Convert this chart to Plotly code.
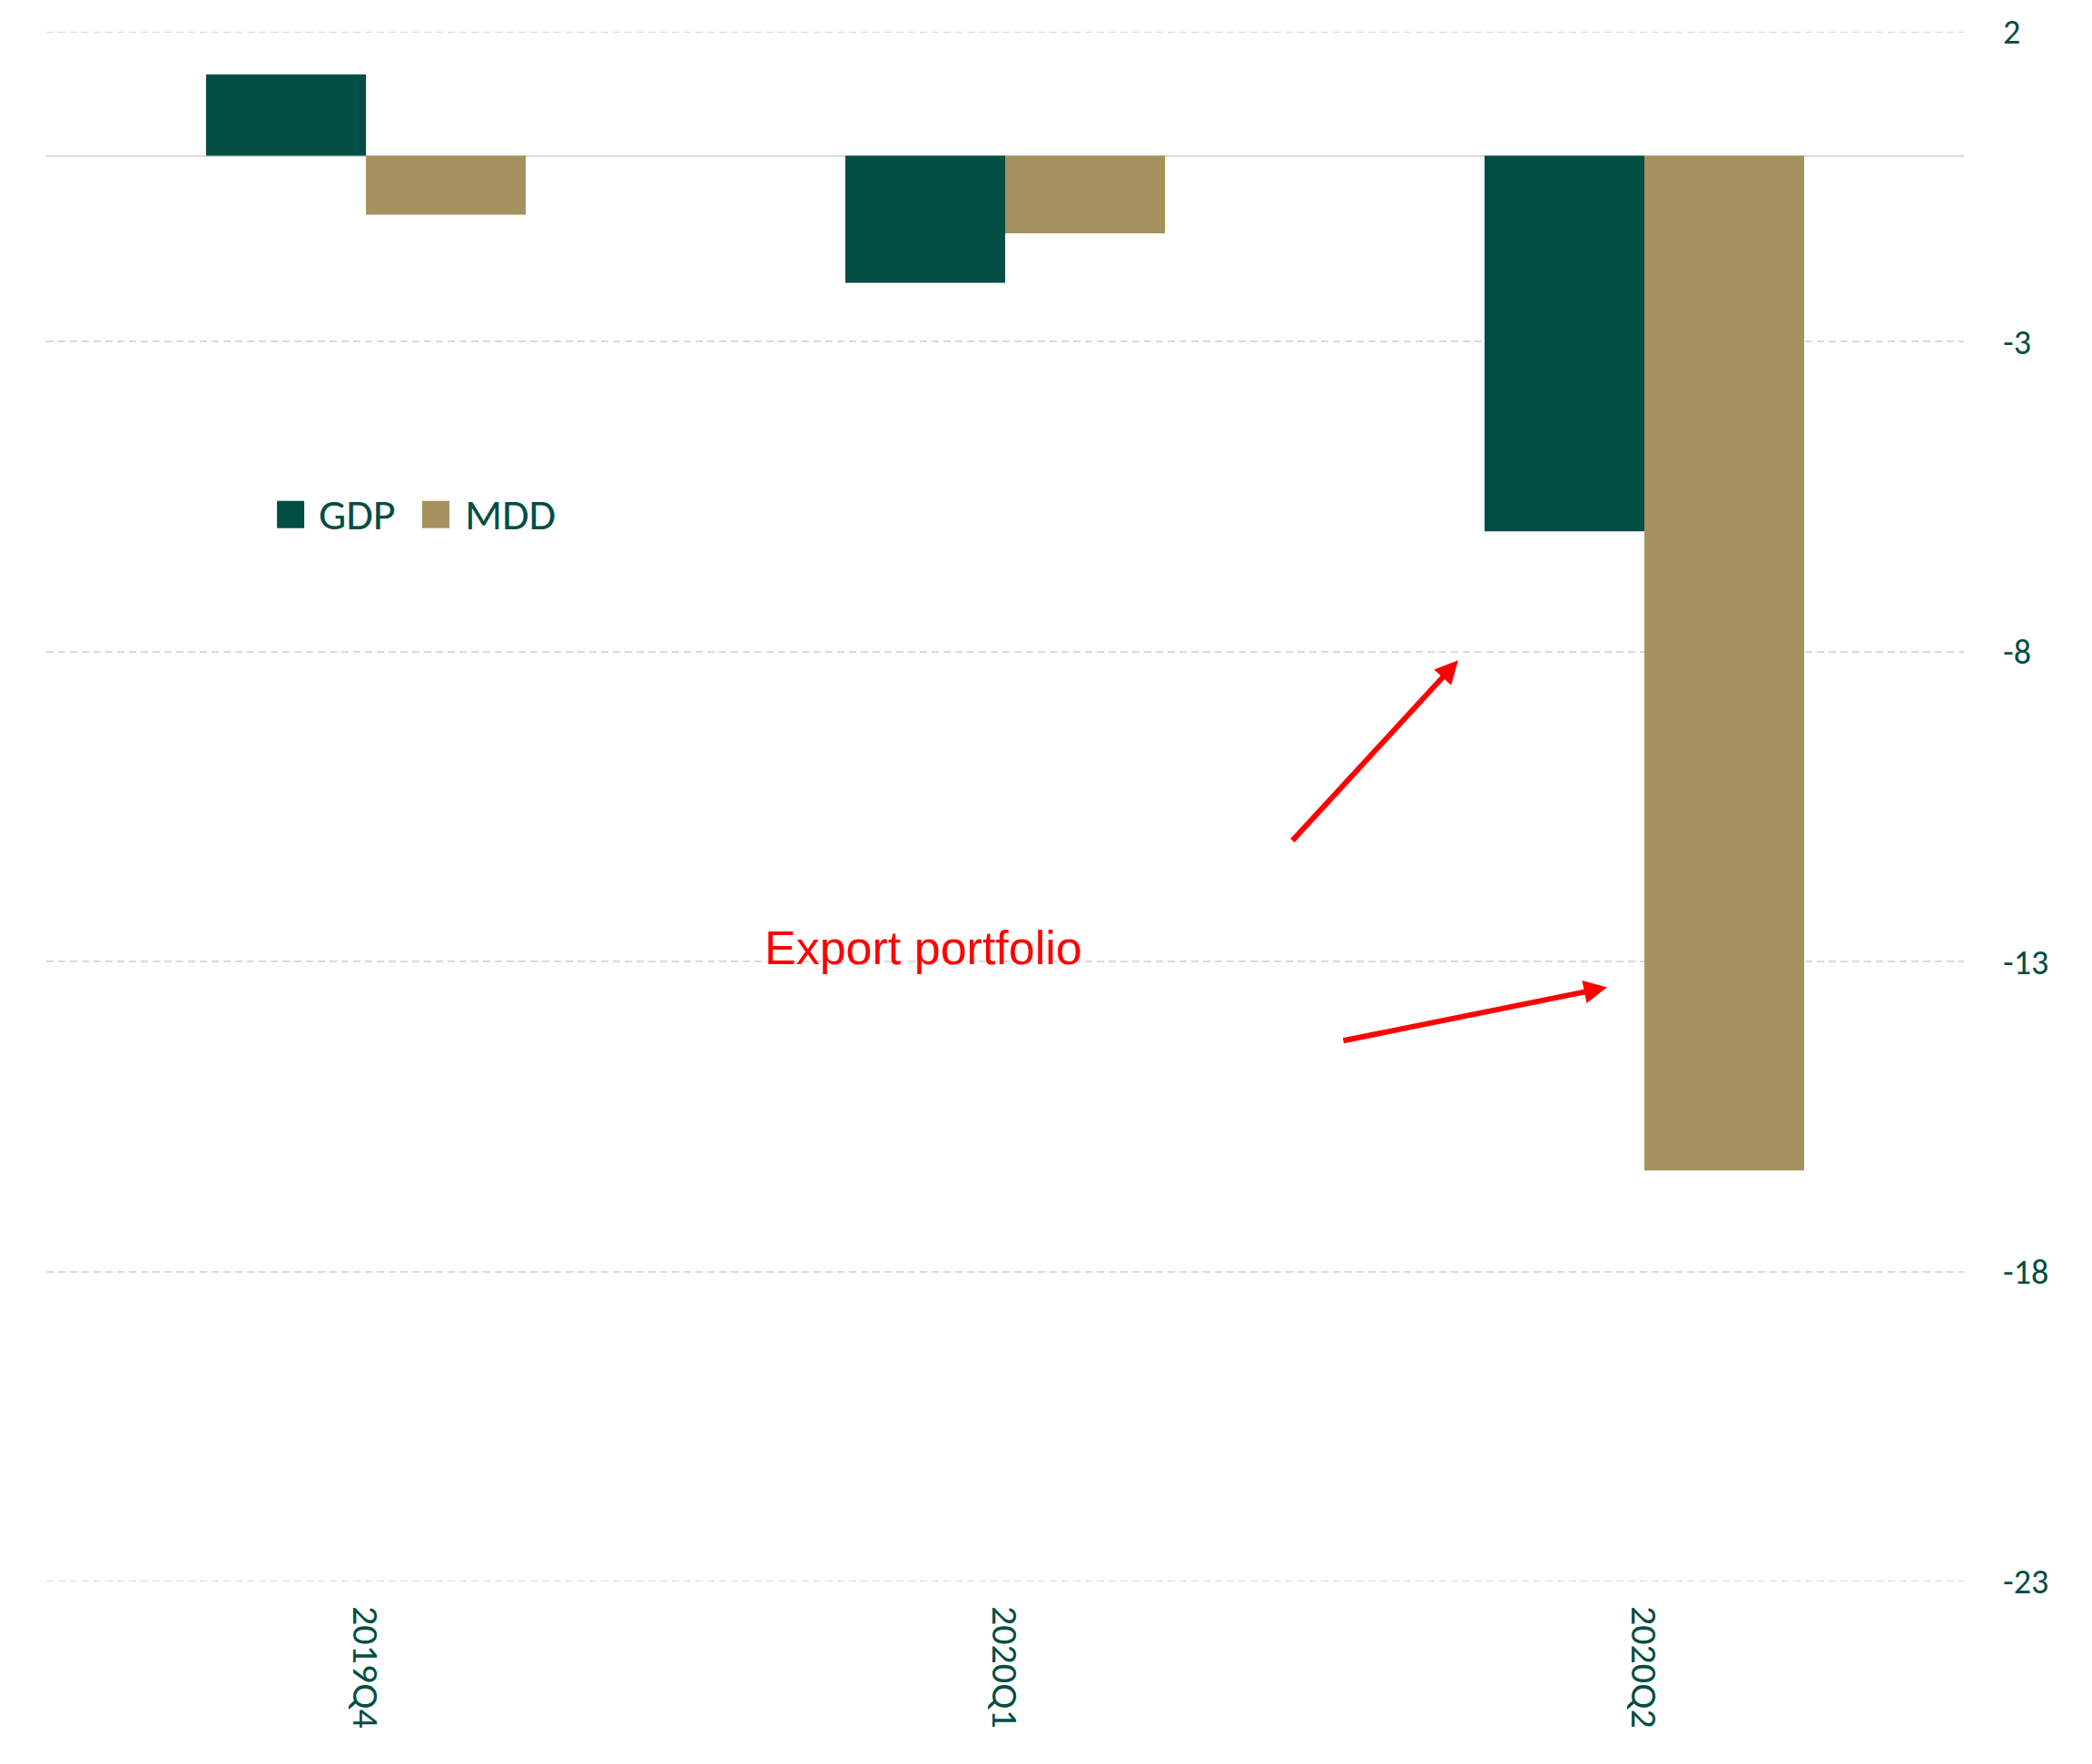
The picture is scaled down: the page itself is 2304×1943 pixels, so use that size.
import plotly.graph_objects as go

# Quarterly growth, % change
quarters = ["2019Q4", "2020Q1", "2020Q2"]
gdp = [1.31, -2.05, -6.06]
mdd = [-0.95, -1.25, -16.37]
series_names = ["GDP", "MDD"]
y_ticks = [2, -3, -8, -13, -18, -23]

GREEN = "#024E44"
GOLD = "#A5915E"
GRID = "#D9D9D9"
GRID_DASH = "8px,5px"
TICK_FONT = "Carlito, Calibri, Lato, sans-serif"

fig = go.Figure()
fig.add_trace(go.Bar(x=quarters, y=gdp, name=series_names[0],
                     marker=dict(color=GREEN, line=dict(width=0))))
fig.add_trace(go.Bar(x=quarters, y=mdd, name=series_names[1],
                     marker=dict(color=GOLD, line=dict(width=0))))

fig.update_layout(
    width=2304, height=1943, autosize=False,
    margin=dict(l=51, r=141, t=31, b=201, pad=0),
    paper_bgcolor="white", plot_bgcolor="white",
    barmode="group", bargap=0.5, bargroupgap=0,
    showlegend=False,
    font=dict(family=TICK_FONT, color=GREEN),
)

fig.update_xaxes(
    type="category", tickangle=90, ticks="", showgrid=False, showline=False,
    tickfont=dict(family=TICK_FONT, size=42, color=GREEN),
    ticklabelstandoff=26,
)
fig.update_yaxes(
    side="right", range=[-23, 2], tickvals=y_ticks,
    ticktext=[str(v) for v in y_ticks],
    showgrid=True, gridcolor=GRID, gridwidth=2, griddash=GRID_DASH,
    zeroline=True, zerolinecolor=GRID, zerolinewidth=2,
    showline=False, ticks="",
    tickfont=dict(family=TICK_FONT, size=38, color=GREEN),
    ticklabelstandoff=42,
)

# Gridlines at the two ends of the value range
for v in (y_ticks[0], y_ticks[-1]):
    fig.add_shape(type="line", xref="paper", yref="y", x0=0, x1=1, y0=v, y1=v,
                  line=dict(color=GRID, width=2, dash=GRID_DASH), layer="below")

# Hand-drawn key with large square swatches
key = [
    (series_names[0], GREEN, 0.1203, 0.1345, 0.1410),
    (series_names[1], GOLD, 0.1960, 0.2102, 0.2175),
]
for name, color, x0, x1, xt in key:
    fig.add_shape(type="rect", xref="paper", yref="paper",
                  x0=x0, x1=x1, y0=0.6797, y1=0.6973,
                  fillcolor=color, line=dict(width=0), layer="above")
    fig.add_annotation(xref="paper", yref="paper", x=xt, y=0.6885,
                       xanchor="left", yanchor="middle", showarrow=False,
                       text=name, font=dict(family=TICK_FONT, size=48, color=GREEN))

# Callout
fig.add_annotation(xref="paper", yref="paper", x=0.4574, y=0.409,
                   xanchor="center", yanchor="middle", showarrow=False,
                   text="Export portfolio",
                   font=dict(family="Liberation Sans, Arial, sans-serif", size=52, color="red"))
for tx, ty, ax, ay in [(0.7363, 0.5944, -184, 200), (0.8139, 0.3834, -292, 59)]:
    fig.add_annotation(xref="paper", yref="paper", x=tx, y=ty, ax=ax, ay=ay,
                       text="", showarrow=True, arrowhead=2, arrowsize=0.85,
                       arrowwidth=6, arrowcolor="red", standoff=0)

fig.write_html("out.html")
